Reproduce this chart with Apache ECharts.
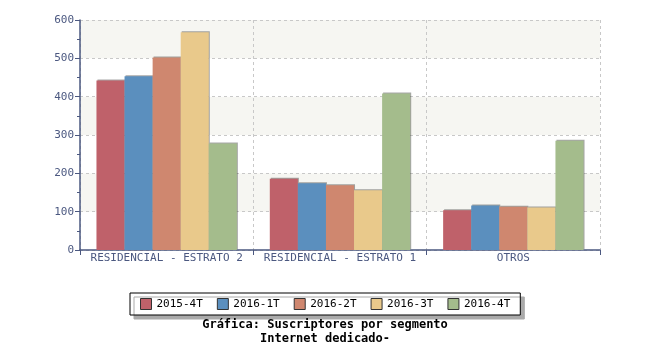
<!DOCTYPE html>
<html><head><meta charset="utf-8">
<script src="https://cdn.jsdelivr.net/npm/echarts@6/dist/echarts.min.js"></script>
<style>html,body{margin:0;padding:0;background:#fff}#c{width:650px;height:350px}</style>
</head><body><div id="c"></div>
<script>
const categories = ['RESIDENCIAL - ESTRATO 2', 'RESIDENCIAL - ESTRATO 1', 'OTROS'];
const seriesNames = ['2015-4T', '2016-1T', '2016-2T', '2016-3T', '2016-4T'];
const s2015_4T = [442, 186, 104];
const s2016_1T = [453, 174, 116];
const s2016_2T = [502, 169, 113];
const s2016_3T = [568, 156, 111];
const s2016_4T = [278, 408, 285];
const seriesValues = [s2015_4T, s2016_1T, s2016_2T, s2016_3T, s2016_4T];
const colors = ['#bf616a', '#5b8fbe', '#cf876f', '#e9c98b', '#a4bc8c'];
const titleLines = ['Gráfica: Suscriptores por segmento', 'Internet dedicado-'];

const font = 'DejaVu Sans Mono';
const axisColor = '#4b5880';
const chart = echarts.init(document.getElementById('c'));
chart.setOption({
  animation: false,
  color: colors,
  title: {
    text: titleLines.join('\n'),
    left: 'center',
    top: 313,
    textStyle: { fontFamily: font, fontWeight: 'bold', fontSize: 12, color: '#000', lineHeight: 14 }
  },
  legend: {
    data: seriesNames,
    left: 130, top: 293,
    padding: [5, 10, 5, 10],
    itemWidth: 11, itemHeight: 11, itemGap: 14,
    icon: 'rect',
    itemStyle: { borderColor: '#333', borderWidth: 1 },
    backgroundColor: '#fff',
    borderColor: '#000', borderWidth: 1, borderRadius: 0,
    shadowColor: '#aaa', shadowOffsetX: 4, shadowOffsetY: 4, shadowBlur: 0,
    textStyle: { fontFamily: font, fontSize: 11, color: '#000' }
  },
  grid: { left: 80, right: 50, top: 20, bottom: 100 },
  xAxis: {
    type: 'category',
    data: categories,
    axisLine: { lineStyle: { color: axisColor, width: 1.5 } },
    axisTick: { show: true, interval: 0, length: 5, lineStyle: { color: axisColor } },
    axisLabel: { interval: 0, fontFamily: font, fontSize: 11, color: axisColor, margin: 3 },
    splitLine: { show: true, interval: 0, lineStyle: { color: '#c8c8c8', type: [3, 3] } }
  },
  yAxis: {
    type: 'value', min: 0, max: 600, interval: 100,
    axisLine: { show: true, lineStyle: { color: axisColor, width: 1.5 } },
    axisTick: { show: true, length: 5, lineStyle: { color: axisColor } },
    minorTick: { show: true, splitNumber: 2, length: 3, lineStyle: { color: axisColor } },
    axisLabel: { fontFamily: font, fontSize: 11, color: axisColor, margin: 6 },
    splitLine: { show: true, lineStyle: { color: '#c8c8c8', type: [3, 3] } },
    splitArea: { show: true, areaStyle: { color: ['#ffffff', '#f6f6f2'] } }
  },
  series: seriesNames.map((n, i) => ({
    name: n,
    type: 'bar',
    data: seriesValues[i],
    barGap: '0%',
    barCategoryGap: '19%',
    itemStyle: { shadowColor: 'rgba(0,0,0,0.35)', shadowOffsetX: 1, shadowOffsetY: -1, shadowBlur: 0 }
  }))
});
</script></body></html>
